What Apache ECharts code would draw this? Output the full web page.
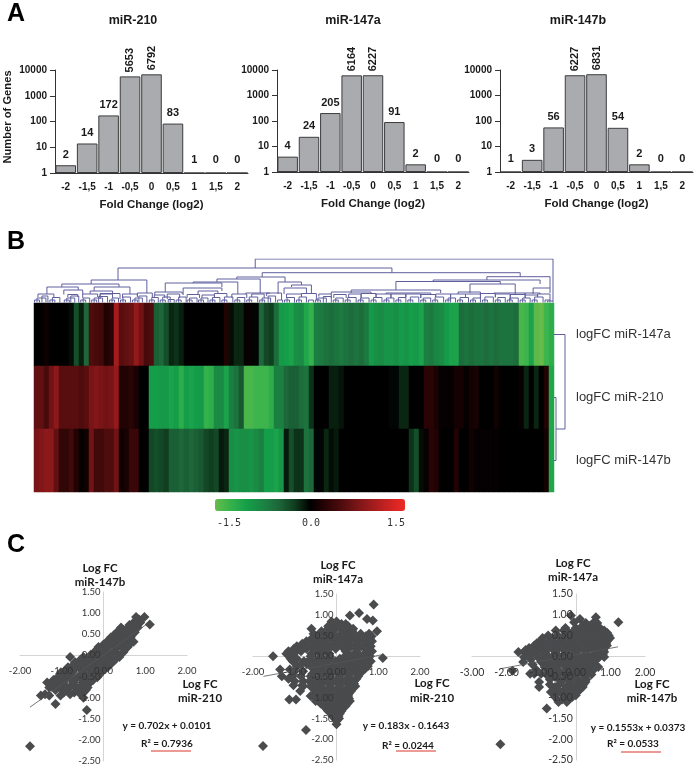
<!DOCTYPE html>
<html><head><meta charset="utf-8">
<style>html,body{margin:0;padding:0;background:#fff}#c{width:697px;height:769px}</style>
<script src="https://cdn.jsdelivr.net/npm/echarts@6/dist/echarts.min.js"></script>
</head><body><div id="c"></div>
<script>
// ---------- Panel A ----------
const foldBins = ['-2','-1,5','-1','-0,5','0','0,5','1','1,5','2'];
const countsMiR210  = [2,14,172,5653,6792,83,1,0,0];
const countsMiR147a = [4,24,205,6164,6227,91,2,0,0];
const countsMiR147b = [1,3,56,6227,6831,54,2,0,0];

// ---------- Panel B ----------
const rowNames = ['logFC miR-147a','logFC miR-210','logFC miR-147b'];
const logFC147a = [0,0,.08,0,0,0,0,-.05,-.35,-.12,-.5,.5,.45,.4,.2,.25,1,.55,.6,.65,.9,.7,.45,.5,-.45,-.5,-.35,-.15,-.2,-.12,
 0,0,0,0,0,0,0,0,.2,-.05,-.15,-.15,.03,.05,-.02,-.5,-.3,-.25,-.55,-.95,-1,-1.05,-.85,-.8,-1.1,-1.25,-.7,-.65,-.6,-.55,
 -.6,-.65,-.6,-.55,-.6,-.55,-.65,-.95,-.85,-.8,-.9,-.9,-.85,-.95,-.9,-1,-.95,-1.05,-.7,-.65,-.75,-.8,-.95,-1.05,-1.05,-.55,-.6,-.55,-.6,-.6,
 -.55,-.6,-.55,-.6,-.6,-.6,-.55,-1.35,-1.3,-1.05,-1.45,-1.5,-1.3,-1.2];
const logFC210 = [.6,.6,.45,.7,.85,.55,.55,.55,.55,.5,.55,.75,.8,.75,.7,.75,.9,.2,.2,.25,.15,0,0,-1,-1,-.95,-.95,-1.05,-1,-1.2,
 -1,-1.05,-1,-.95,-1.25,-1.2,-.8,-.8,-1.05,-.7,-.6,-.4,-1.35,-1.35,-1.3,-1.3,-1.3,-1.2,-.7,-.7,-.5,-.45,-.45,-.55,-.6,-.2,0,0,0,-.12,
 -.12,-.08,0,0,0,0,0,0,0,0,0,-.02,-.02,-.15,-.15,0,0,0,.25,.25,.15,.03,.03,.03,.12,.12,.03,.12,.15,0,
 0,0,.1,0,0,0,0,.05,-.15,0,-.15,0,.2,-1.1];
const logFC147b = [.75,.8,.85,.85,.6,.3,.3,.4,.2,.05,.1,.7,.4,.4,.5,.5,.7,.1,.15,.35,.35,0,0,-.3,-.35,-.3,-.25,-.45,-.45,-.5,
 -.45,-.5,-.45,-.4,-.3,-.25,-.3,-.1,-.15,-.85,-.9,-.85,-.85,-.9,-.8,-.7,-1,-1,-1.05,-.9,-.1,-.35,-.2,-.2,-.6,-.5,-.02,-.02,-.15,-.05,
 -.1,0,0,0,0,0,0,0,0,0,0,0,0,0,0,-.2,-.35,-.05,.05,.25,.2,0,0,0,.2,0,0,.1,.03,.03,
 .03,.03,.03,0,0,0,0,0,0,0,0,0,.12,-1.1];
const colourStops = ['#66bb4a','#34b24c','#159e49','#1b8543','#1d673a','#103f20','#000000','#2a0405','#4f0c0d','#7a1517','#a41c1e','#cc2322','#ee2a24'];
const scaleTicks = ['-1.5','0.0','1.5'];

// Dendrogram: [left leaf, right leaf, join height, left drop to, right drop to]
const dendroNodes = [
 [44.7,104.6,44,35,2],[17.1,72.2,35,23,30.3],[11.7,22.9,23,19,10],[5.8,17.3,19,16,16],[2.8,9.1,16,9,13],[6.2,10,13,8.5,9],
 [12.3,19.5,16,12,9],[11.5,16,12,9,9],[13.5,17.5,9.5,4,4],
 [46.1,98,30.3,26,26.3],[41,50.7,26,24,21],[37,45.7,24,21,10],[32.2,41.2,21,20,9],[26.6,38,20,11,16],[30.2,38,15,8,12],[33.2,37.2,12,8,9],
 [24.5,30,11,8,9],[42.8,47.5,10,9,9],[49.3,54,21,9,18],[52,56,18,16,9],[50.5,55,15,9,9],
 [91.3,104,26.3,23,15],[80.5,102,23,21.5,19],[73,94,21.5,13,19],[64,82,13,10,10],[60,68,11,9,9],[71,80,10,9,9],
 [87.9,97,19,10,9],[85.5,90,11,9,9],[92.7,99,10,9,9],[100.6,104,15,9,10],[99,102,10,8,9],
 [1,4.2,9,6,5],[7,9,8.5,6,6],[10,13,9,5,6],[13.5,16,9,6,5],[18,21,9,5,6],[21,24,10,7,5],[24.4,26.5,8,5,5],[27,29.5,9,4,5],[31,33.5,8.5,5,5],
 [34,36.5,8,5,5],[36.5,39,9.5,5,6],[40,43,9,5,5],[44,46.5,9,6,5],[47,50,10,7,3],[51,54,9,5,6],[54,57,9.5,6,3],[57.5,60,9,6.5,5],[60.5,63,8.5,5,5],
 [63.5,66,9,5.5,5],[66,69,9.5,5,5.5],[69,72,9,6,5],[72,75,9,5,5.5],[75,78,9,6,5],[78,81,8.5,5,6],[81,84,9,6,3],[84,87,9,5,5.5],[87,90,9,5.5,5],
 [90,93,9.5,5,6],[93,96,9,5.5,3],[96,99,8.5,5,5],[99,101.5,8,5,6],[101.5,104,9,6,3]
];
// Smallest joins near the leaves: [left leaf, right leaf, join height]
const dendroLeaves = [
 [.3,1.3,3],[.8,2.6,5],[1.8,3,7],[3.4,4.4,3],[3.9,5.4,5.5],[6.3,7.3,3],[6.8,8.4,5],[7.6,9.2,7],[9.6,10.6,3],[10.1,11.4,5],
 [11.8,12.8,3],[12.3,14,5],[13.2,15,6.5],[15.4,16.4,3],[15.9,17.2,5],[17.6,18.6,3],[18.1,19.6,6],[20,21,3],[20.5,22,5],[21.3,22.9,7],
 [23.4,24.4,3],[23.9,25.2,5.5],[25.6,26.6,3],[26.1,27.6,6],[27.2,28.4,3.5],[28.8,29.8,3],[29.3,30.8,6],[31,32,3],[31.5,33,5],[33.3,34.3,3],
 [33.8,35.2,5],[35.6,36.6,3],[36.1,37.6,5.5],[38,39,3],[38.5,40.2,6],[40.6,41.6,3],[41.1,42.6,5.5],[43,44,3],[43.5,45.2,6],[45.6,46.6,3],
 [46.1,47.8,5],[47.3,48.8,7],[49.2,50.2,3],[50.6,51.6,3],[51.1,52.6,5.5],[53,54,3],[53.5,55,6],[55.4,56.4,3],[56.8,57.8,3],[57.3,59,5],
 [58.4,60,6.5],[60.4,61.4,3],[60.9,62.4,5],[62.8,63.8,3],[63.3,65,5.5],[65.4,66.4,3],[65.9,67.6,5],[68,69,3],[68.5,70.2,5.5],[70.6,71.6,3],
 [71.1,72.6,5],[73,74,3],[73.5,75,5.5],[75.4,76.4,3],[75.9,77.6,6],[78,79,3],[78.5,80,5],[80.4,81.4,3],[80.9,82.6,6],[83,84,3],
 [83.5,85,5],[85.4,86.4,3],[85.9,87.6,5.5],[88,89,3],[88.5,90,5],[90.4,91.4,3],[90.9,92.6,6],[93,94,3],[93.5,95,5.5],[95.4,96.4,3],
 [95.9,97.6,5],[98,99,3],[98.5,100,5],[100.4,101.4,3],[100.9,102.6,6],[103,104,3],[103.5,104.6,2]
];
// Row clustering: [row a, row b, join height, row-a drop, row-b drop]
const rowDendro = [[1.5,2.5,2,0,0],[.5,2,11,0,2]];

// ---------- Panel C : each row is [y, x, x, x ...] ----------
const rows210vs147b = [
 [.91,.78,.98],[.85,.85],[.78,.72,.88],[.73,1.11],[.72,.62,.78],[.66,.42,.6,.82],[.6,.48,.66],[.55,.32,.55,.75],[.49,.26,.48,.68],[.43,.18,.42,.65],[.37,.14,.36,.58],[.32,.08,.3,.55,.72],[.26,0,.22,.44,.62],[.2,-.12,.1,.34,.58],
 [.14,-.16,.05,.28,.5],[.08,-.2,0,.22,.48],[.02,-.3,-.1,.12,.36],[-.04,-.8,-.48,-.28,-.05,.18,.38],[-.1,-.55,-.35,-.12,.1,.28],[-.16,-.68,-.45,-.22,0,.22],[-.22,-.72,-.55,-.3,-.08,.14],[-.28,-.85,-.6,-.35,-.12,.1],[-.34,-.9,-.7,-.45,-.2,0],[-.4,-1.02,-.75,-.5,-.28,-.05],
 [-.46,-1,-.8,-.55,-.32,-.1],[-.52,-1.1,-.85,-.62,-.38,-.15],[-.58,-1.2,-.98,-.75,-.5,-.25],[-.64,-1.35,-1.15,-.95,-.72,-.5,-.32],[-.7,-1.2,-.95,-.7,-.45],[-.76,-1.3,-1.05,-.82,-.58,-.38],[-.82,-1.15,-.9,-.62,-.42],[-.88,-.95,-.7,-.48],[-.92,-1.4,-.8,-.55],[-.95,-1.5,-1.3,-1.03],
 [-1,-.48],[-1.15,-1.15],[-1.29,-.4],[-2.15,-1.76]
];
const rows210vs147a = [
 [1.25,.89],[1.04,.54],[.98,.32],[.9,.73],[.86,.87],[.84,-.12,0],[.78,-.05,.12,.22],[.72,-.2,.05,.28],[.66,-.6,-.2,-.02,.25,.4],[.6,-.36,-.1,.15,.38,.97],[.54,-.55,-.35,-.12,.12,.35,.58,.78],
 [.48,-.48,-.25,0,.23,.47,.7,.84],[.42,-.6,-.36,-.12,.12,.35,.6,.8],[.36,-.72,-.48,-.25,0,.24,.48,.72,.85],[.3,-.82,-.5,-.25,0,.24,.48,.72],[.24,-.95,-.8,-.62,-.38,-.12,.12,.36,.6,.82],[.18,-1.02,-.72,-.5,-.25,-.02,.24,.48,.72],
 [.12,-1.15,-1,-.85,-.5,-.25,.22,.48,.72,.85],[.06,-1.2,-1.02,-.6,-.38,-.17,.3,.52,.74],[0,-1.52,-1.1,-.62,-.38,-.16,.2,.4,.62,.8],[-.04,1.11],[-.06,-1.1,-.95,-.62,-.38,-.16,.08,.3,.54,.76],[-.12,-1.05,-.78,-.5,-.27,-.03,.2,.43,.66,.82],[-.18,-.72,-.5,-.27,-.03,.2,.43,.66],
 [-.2,-.85],[-.24,-.95,-.62,-.38,-.15,.08,.32,.55,.75],[-.3,-.55,-.38,-.15,.08,.3,.5,.68],[-.32,-1.35,-1.12],[-.36,-1,-.8,-.5,-.27,-.03,.2,.42,.62],[-.42,-.58,-.38,-.15,.08,.3,.52],[-.48,-1.31,-1.05,-.85,-.62,-.38,-.15,.08,.3,.52],[-.54,-1.15,-.55,-.38,-.15,.08,.3,.48],
 [-.6,-1,-.8,-.65,-.5,-.27,-.03,.2,.42],[-.66,-.55,-.38,-.15,.08,.3,.42],[-.7,-1.03,-.82],[-.72,-.8,-.62,-.38,-.15,.08,.3,.45],[-.78,-.55,-.38,-.15,.08,.28,.38],[-.84,-.87,-.5,-.27,-.03,.2,.35],[-.9,-.5,-.27,-.03,.18,.3],[-.96,-.62,-.38,-.15,.08,.28],[-1.02,-.42,-.27,-.03,.18,.3],
 [-1.04,-1.13,-.97],[-1.08,-.5,-.27,-.03,.2,.32],[-1.14,-.38,-.15,.08,.26],[-1.2,-.3,-.12,.08,.22],[-1.26,-.25,-.05,.15],[-1.32,-.2,0,.12],[-1.38,-.12,.08],[-1.44,-.1,.05],[-1.5,-.04,.06],[-1.56,0],[-1.64,0],[-1.78,-.73],[-2.16,-1.76]
];
const rows147bvs147a = [
 [.98,-.14],[.94,.58],[.9,.12],[.82,1.23,-.05],[.8,.29,.5,.62],[.74,.2,.42,.6],[.68,-.3,0,.28,.55,.7],[.62,-.58,-.35,-.05,.2,.48,.68,.82],[.56,-.2,.08,.36,.64,.91],[.5,-.8,-.52,-.22,.05,.32,.6,.85,.95],
 [.44,-.96,-.68,-.38,-.1,.18,.46,.74,.99],[.38,-1,-.68,-.38,-.1,.18,.46,.74,.92],[.32,-1.12,-.82,-.52,-.24,.04,.32,.6,.88],[.26,-1.2,-.95,-.66,-.38,-.1,.18,.46,.74,.9],[.2,-1.35,-1,-.7,-.4,-.1,.18,.46,.74],[.15,-1.45,-1.1,-.85,-.55,-.25,.02,.3,.58,.8],
 [.1,-1.66,-1.48,-1.2,-.88,-.58,-.28,.02,.3,.58,.82],[.04,-1.3,-.95,-.62,-.34,-.05,.25,.54,.78],[-.02,-1.5,-1.1,-.78,-.48,-.2,.1,.4,.68,.82],[-.08,-1.3,-.85,-.55,-.25,.04,.32,.6],[-.14,-1.52,-1,-.7,-.4,-.1,.18,.46],[-.2,-1.25,-.8,-.5,-.2,.08,.36,.55],
 [-.26,-.9,-.6,-.3,-.02,.26,.5,.65],[-.32,-1.15,-.8,-.55,-.25,.05,.3,.52],[-.35,-1.83],[-.38,-.72,-.45,-.15,.12,.38],[-.42,-1.32,-1.2,-1],[-.44,-.85,-.6,-.3,-.02,.25,.45],[-.5,-.6,-.3,0,.26],[-.56,-.75,-.48,-.2,.05,.3],[-.62,-1.06,-.42,-.15,.12,.28],
 [-.68,-.75,-.48,-.2,.05,.22],[-.74,-1.06,-.6,-.28,0,.2],[-.8,-.6,-.32,-.08,.12],[-.86,-.72,-.45,-.15,.05],[-.92,-.6,-.35,-.15],[-.94,0],[-.98,-.6,-.3,-.1],[-1.04,-.4,-.2],[-1.1,-.5,-.26],[-1.26,-.84],[-2.12,-2.18]
];
const trendSlope = [.702,.183,.1553];
const trendIntercept = [.0101,-.1643,.0373];
const trendFromX = [-1.76,-1.75,-2.18];
const trendToX = [1.02,1.11,1.22];
const xMin = [-2,-2,-3];
const yTicksFmt = v => v.toFixed(2);

// ---------- Build ----------
const ink = '#1a1a1a', arial = 'Liberation Sans, Arial, sans-serif', lato = 'Lato, sans-serif';
const grids = [], xAxes = [], yAxes = [], series = [];

function histogram(counts, left, width, top, height, i) {
  grids.push({left, width, top, height});
  xAxes.push({gridIndex:i, type:'category', data:foldBins,
    axisLine:{lineStyle:{color:'#333',width:1}}, axisTick:{length:4,lineStyle:{color:'#333'}},
    axisLabel:{margin:9,fontFamily:arial,fontWeight:'bold',fontSize:10,color:ink,interval:0},
    name:'Fold Change (log2)',nameLocation:'middle',nameGap:26,
    nameTextStyle:{fontFamily:arial,fontWeight:'bold',fontSize:11.5,color:ink}});
  yAxes.push({gridIndex:i, type:'log', logBase:10, min:1, max:10000, splitLine:{show:false},
    axisLine:{show:true,onZero:false,lineStyle:{color:'#333',width:1}}, axisTick:{show:true,length:5,lineStyle:{color:'#333'}}, minorTick:{show:false},
    axisLabel:{margin:8,fontFamily:arial,fontWeight:'bold',fontSize:10,color:ink,formatter:v=>String(Math.round(v))}});
  series.push({type:'bar', xAxisIndex:i, yAxisIndex:i, barCategoryGap:'4%', silent:true,
    itemStyle:{color:'#a9abae',borderColor:'#3c3c3c',borderWidth:1},
    label:{show:true,position:'top',fontFamily:arial,fontWeight:'bold',fontSize:11,color:ink,distance:5},
    data:counts.map(c => ({value:Math.max(c,1),
      label:Object.assign({formatter:String(c)}, c>=1000 ? {rotate:90,align:'left',verticalAlign:'middle',distance:4} : c<=1 ? {distance:7} : {})}))});
}
histogram(countsMiR210, 55,193,70,103,0);
histogram(countsMiR147a,277,192,70,102,1);
histogram(countsMiR147b,500,193,70,102,2);

// heatmap
const hmData = [];
[logFC147a,logFC210,logFC147b].forEach((r,ri)=>r.forEach((v,ci)=>hmData.push([ci,ri,v])));
grids.push({left:34,width:520,top:303,height:189});
xAxes.push({gridIndex:3,type:'category',data:logFC147a.map((_,i)=>i),show:false});
yAxes.push({gridIndex:3,type:'category',data:rowNames,inverse:true,position:'right',
  axisLine:{show:false},axisTick:{show:false},splitLine:{show:false},
  axisLabel:{margin:22,fontFamily:arial,fontSize:13,color:'#333'}});
series.push({type:'heatmap',xAxisIndex:3,yAxisIndex:3,data:hmData,silent:true,progressive:0,itemStyle:{borderWidth:0}});

// column dendrogram
grids.push({left:33,width:522,top:259,height:44});
xAxes.push({gridIndex:4,type:'value',min:0,max:105,show:false});
yAxes.push({gridIndex:4,type:'value',min:0,max:44,show:false});
const dendroLines = dendroNodes.map(n=>({coords:[[n[0],n[3]],[n[0],n[2]],[n[1],n[2]],[n[1],n[4]]]}))
  .concat(dendroLeaves.map(n=>({coords:[[n[0],.5],[n[0],n[2]],[n[1],n[2]],[n[1],.5]]})));
const dendroColour = '#5f5f9e';
series.push({type:'lines',coordinateSystem:'cartesian2d',xAxisIndex:4,yAxisIndex:4,polyline:true,silent:true,
  lineStyle:{color:dendroColour,width:1,opacity:1},data:dendroLines});

// row dendrogram
grids.push({left:554,width:12,top:303,height:189});
xAxes.push({gridIndex:5,type:'value',min:0,max:12,show:false});
yAxes.push({gridIndex:5,type:'value',min:0,max:3,inverse:true,show:false});
series.push({type:'lines',coordinateSystem:'cartesian2d',xAxisIndex:5,yAxisIndex:5,polyline:true,silent:true,
  lineStyle:{color:dendroColour,width:1,opacity:1},
  data:rowDendro.map(n=>({coords:[[n[3],n[0]],[n[2],n[0]],[n[2],n[1]],[n[4],n[1]]]}))});

// scatter panels: line-only axes under the diamonds, label-only axes above them
const labelX = [], labelY = [];
function scatterPanel(rows, left, width, top, height, i, k) {
  const g = 6+k;
  grids.push({left,width,top,height});
  const pts = [];
  rows.forEach(r=>r.slice(1).forEach(x=>pts.push([x,r[0]])));
  const xBase = {gridIndex:g,type:'value',splitLine:{show:false},axisTick:{show:false},min:xMin[k],max:2,interval:1,offset:-height*2.5/4};
  const yBase = {gridIndex:g,type:'value',splitLine:{show:false},axisTick:{show:false},min:-2.5,max:1.5,interval:.5,offset:-width*(-xMin[k])/(2-xMin[k])};
  const line = {show:true,onZero:false,lineStyle:{color:'#d4d4d4',width:1}};
  const fs = k==2?10.5:9.5;
  const lab = m => ({formatter:yTicksFmt,margin:m,fontFamily:lato,fontSize:fs,color:'#333',showMinLabel:true,showMaxLabel:true});
  xAxes.push(Object.assign({},xBase,{z:1,axisLine:line,axisLabel:{show:false}}));
  yAxes.push(Object.assign({},yBase,{z:1,axisLine:line,axisLabel:{show:false}}));
  labelX.push(Object.assign({},xBase,{z:4,position:'bottom',axisLine:{show:false,onZero:false},axisLabel:lab(11)}));
  labelY.push(Object.assign({},yBase,{z:4,position:'left',axisLine:{show:false,onZero:false},axisLabel:lab(3)}));
  series.push({type:'scatter',xAxisIndex:g,yAxisIndex:g,symbol:'diamond',symbolSize:10,silent:true,
    itemStyle:{color:'#4a4b4d',opacity:1},data:pts,z:2});
  series.push({type:'line',xAxisIndex:g,yAxisIndex:g,showSymbol:false,silent:true,z:3,
    lineStyle:{color:'#555',width:.8},
    data:[trendFromX[k],trendToX[k]].map(x=>[x,trendSlope[k]*x+trendIntercept[k]])});
}
scatterPanel(rows210vs147b,20,167,592,169,0,0);
scatterPanel(rows210vs147a,253,167,594,166,1,1);
scatterPanel(rows147bvs147a,472,173,594,166,2,2);

// fixed text
const T = (text,x,y,font,fill,align) => ({type:'text',x,y,silent:true,z:10,style:{text,font,fill:fill||ink,align:align||'center',verticalAlign:'middle'}});
const boldArial = s => `bold ${s}px ${arial}`;
const boldLato = s => `bold ${s}px ${lato}`;
const mono = '10px "DejaVu Sans Mono", monospace';
const redLine = (x1,x2,y) => ({type:'line',silent:true,z:10,shape:{x1,y1:y,x2,y2:y},style:{stroke:'#d8362a',lineWidth:1.2}});
const graphic = [
 T('A',16,14,boldArial(25),'#000'),T('B',16,242,boldArial(25),'#000'),T('C',16,545,boldArial(25),'#000'),
 T('miR-210',133,21,boldArial(12.5)),T('miR-147a',353,21,boldArial(12.5)),T('miR-147b',578,21,boldArial(12.5)),
 Object.assign(T('Number of Genes',8,117,boldArial(11.2)),{rotation:Math.PI/2}),
 T(scaleTicks[0],229,523,mono,'#333'),T(scaleTicks[1],311,523,mono,'#333'),T(scaleTicks[2],396,523,mono,'#333'),
 T('Log FC',100,568,boldLato(11.5)),T('miR-147b',100,582,boldLato(11.5)),
 T('Log FC',200,684,boldLato(11.5)),T('miR-210',200,698,boldLato(11.5)),
 T('y = 0.702x + 0.0101',167,726,boldLato(10)),T('R² = 0.7936',167,744,boldLato(10)),redLine(151,191,751),
 T('Log FC',338,565,boldLato(11.5)),T('miR-147a',338,579,boldLato(11.5)),
 T('Log FC',432,683,boldLato(11.5)),T('miR-210',432,698,boldLato(11.5)),
 T('y = 0.183x - 0.1643',406,726,boldLato(10)),T('R² = 0.0244',408,746,boldLato(10)),redLine(396,436,751),
 T('Log FC',573,563,boldLato(11.5)),T('miR-147a',573,577,boldLato(11.5)),
 T('Log FC',652,684,boldLato(11.5)),T('miR-147b',652,698,boldLato(11.5)),
 T('y = 0.1553x + 0.0373',638,728,boldLato(10)),T('R² = 0.0533',633,744,boldLato(10)),redLine(621,661,752)
];

const chart = echarts.init(document.getElementById('c'),null,{renderer:'canvas'});
chart.setOption({animation:false,backgroundColor:'#fff',tooltip:{show:false},grid:grids,xAxis:xAxes.concat(labelX),yAxis:yAxes.concat(labelY),series,graphic,
  visualMap:{type:'continuous',seriesIndex:3,min:-1.5,max:1.5,orient:'horizontal',left:215,top:499,itemWidth:12,itemHeight:190,
    padding:0,calculable:false,realtime:false,text:null,showLabel:false,hoverLink:false,inRange:{color:colourStops},textStyle:{fontSize:0}}});
</script></body></html>
